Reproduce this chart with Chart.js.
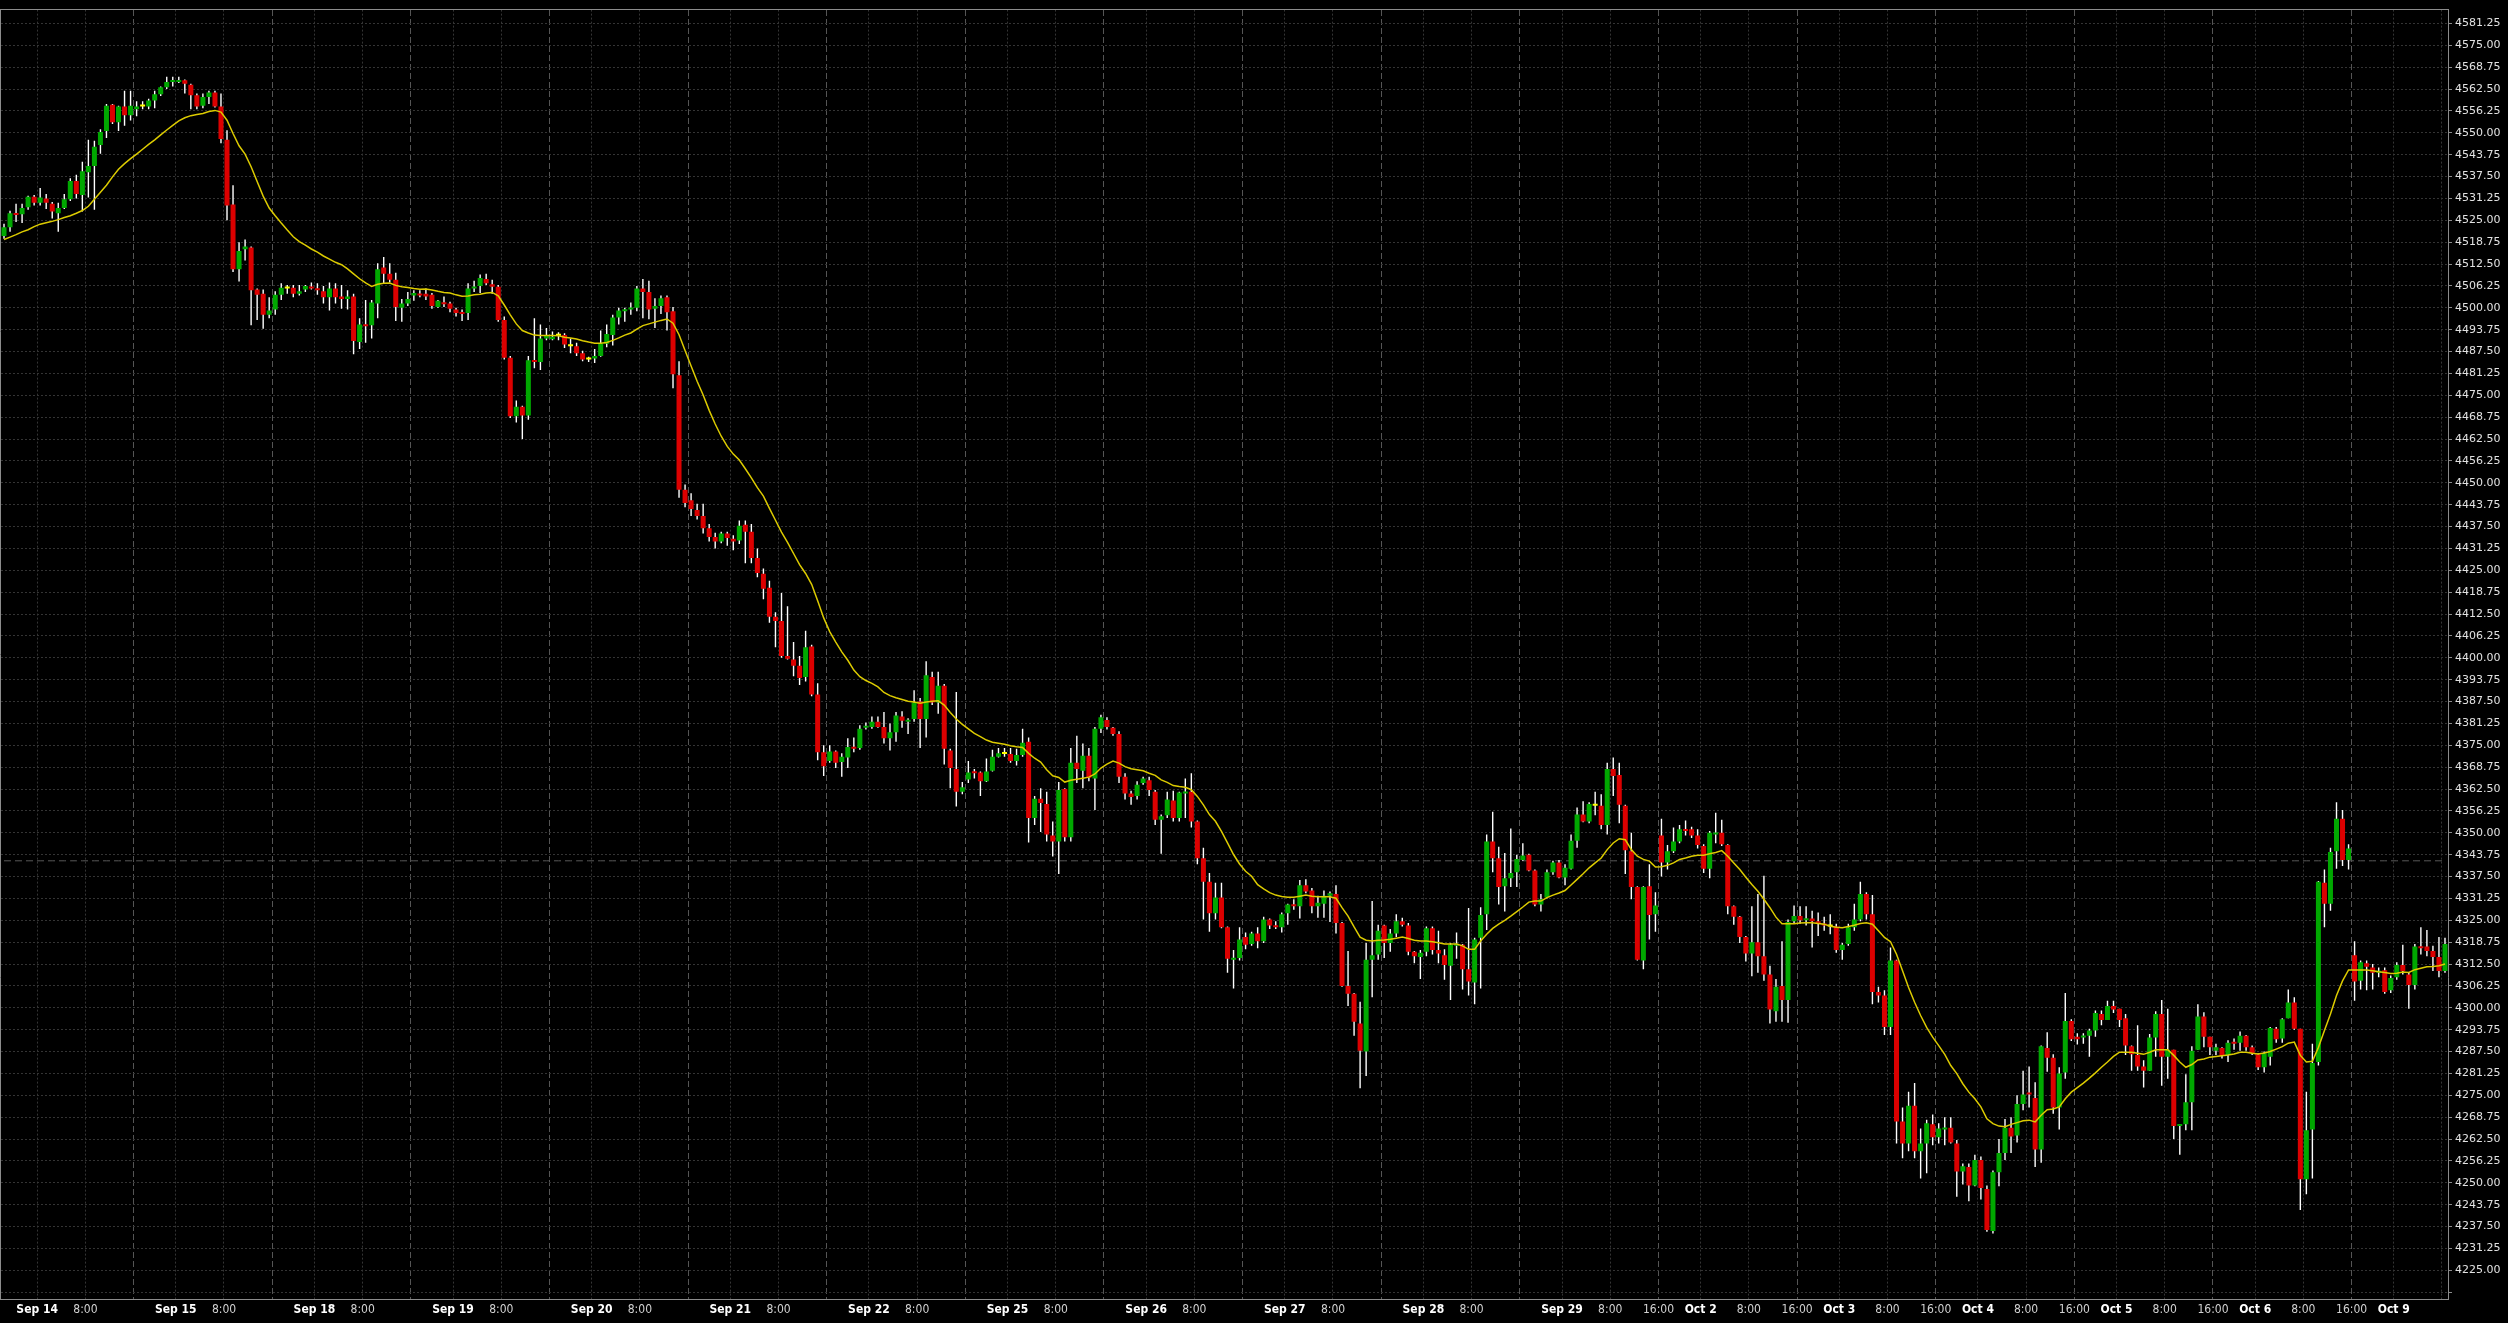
<!DOCTYPE html>
<html>
<head>
<meta charset="utf-8">
<title>Hourly candles</title>
<script src="https://cdn.jsdelivr.net/npm/chart.js@4.4.0/dist/chart.umd.min.js"></script>
<style>
  html, body { margin: 0; padding: 0; background: #000; }
  #wrap { width: 2508px; height: 1323px; position: relative; }
</style>
</head>
<body>
<div id="wrap"><canvas id="chart"></canvas></div>
<script>
// session dates shown on the time axis, each session has 23 hourly bars
const days = ['Sep 14', 'Sep 15', 'Sep 18', 'Sep 19', 'Sep 20', 'Sep 21', 'Sep 22', 'Sep 25', 'Sep 26',
  'Sep 27', 'Sep 28', 'Sep 29', 'Oct 2', 'Oct 3', 'Oct 4', 'Oct 5', 'Oct 6', 'Oct 9'];
const leadBars = 6;       // bars before the first date label
const sessionBars = 23;
const first16Label = 11;  // "16:00" labels only shown from Sep 29 on

const open = [
  4520.5, 4523, 4527, 4526.75, 4528.75, 4531.75, 4530, 4531.25, 4529.75, 4527,
  4528.5, 4531, 4536.25, 4532.25, 4538.75, 4540.5, 4546.5, 4550.5, 4558, 4553,
  4557.5, 4555, 4556.75, 4557.5, 4557.5, 4559.25, 4561, 4563, 4564.5, 4564.5,
  4565, 4563.75, 4560.75, 4557.75, 4560.25, 4561.5, 4557.5, 4548, 4529.5, 4511,
  4516.75, 4517.25, 4505.25, 4504, 4498, 4499.5, 4503.75, 4505.5, 4505.75, 4504,
  4505.25, 4506, 4505.5, 4504.75, 4503, 4505.5, 4503.25, 4502.5, 4503.25, 4490.25,
  4495.25, 4495, 4501.25, 4511.5, 4509.75, 4508, 4500, 4501.25, 4503.5, 4504,
  4504, 4503.75, 4500.25, 4501.5, 4501.25, 4499.5, 4498.75, 4498.5, 4505.5, 4506.25,
  4508.25, 4506.75, 4506, 4496.5, 4485.75, 4469, 4471.75, 4469.25, 4485, 4484.5,
  4491.25, 4491, 4492, 4492.25, 4489, 4489, 4487, 4485.25, 4485.5, 4486.25,
  4489.75, 4492.25, 4497.25, 4499, 4499.5, 4500, 4505.5, 4504.5, 4499.75, 4500.5,
  4503, 4499, 4480.75, 4448, 4445, 4442.25, 4440.5, 4437, 4434.5, 4433.25,
  4435.5, 4434, 4433.5, 4438, 4436, 4428.5, 4424, 4420, 4411.75, 4410.5,
  4400.5, 4399.5, 4397.75, 4394.5, 4403.25, 4389.5, 4373, 4370.5, 4373.25, 4370.25,
  4371.5, 4374.5, 4374.25, 4380, 4380.25, 4381.75, 4380.25, 4377, 4378.75, 4383.25,
  4381.75, 4382.5, 4387.5, 4382.5, 4394.5, 4387.25, 4392, 4373.5, 4368.25, 4361.75,
  4365.25, 4367.5, 4367.25, 4364.75, 4367.75, 4371.75, 4372.5, 4372.5, 4370.5, 4372.25,
  4376, 4354.25, 4359.75, 4358.25, 4349.25, 4347.5, 4362.5, 4348.75, 4370, 4367.75,
  4372, 4365.5, 4379.75, 4382.25, 4380, 4378.25, 4366, 4361.25, 4360.5, 4364.25,
  4365, 4361.75, 4353.75, 4355, 4359.25, 4354.25, 4361.25, 4361.75, 4353.25, 4342.75,
  4336, 4327, 4331.5, 4323, 4313.75, 4314.25, 4320.25, 4318.25, 4321.25, 4319,
  4325.25, 4323.5, 4323, 4327, 4329.5, 4329, 4335, 4333.5, 4329, 4329.75,
  4332, 4332.5, 4324.25, 4306.25, 4304, 4295.5, 4287.5, 4313.75, 4315.25, 4323.5,
  4318.5, 4321.25, 4324.75, 4323.5, 4316, 4314.5, 4316, 4322.75, 4316.5, 4315,
  4312, 4317.75, 4318, 4311, 4307.25, 4320, 4326.75, 4347.5, 4342.75, 4334.75,
  4337, 4338.75, 4342.25, 4343.75, 4339.25, 4329.5, 4331.5, 4338.75, 4341.5, 4337.25,
  4339.75, 4347.75, 4355.25, 4353.25, 4357.75, 4357.75, 4352.25, 4368.25, 4366.5, 4357.75,
  4344.75, 4334.5, 4313.5, 4334.75, 4326.75, 4349.25, 4341.5, 4344.75, 4347.5, 4351,
  4351, 4349.25, 4346.25, 4339.75, 4349.5, 4350, 4346.5, 4329, 4326, 4320.25,
  4315.5, 4318.75, 4314.75, 4309.5, 4299, 4306.25, 4302.25, 4324.75, 4326.25, 4325,
  4325.5, 4324.75, 4324, 4323.25, 4323.25, 4316.5, 4318.25, 4323, 4325.25, 4332.5,
  4326.75, 4304.5, 4303.5, 4294.5, 4313.5, 4267.5, 4261.25, 4272, 4259, 4261.25,
  4266.75, 4263, 4265.25, 4265.75, 4261.25, 4253.25, 4254.5, 4249.25, 4256.5, 4248.25,
  4236.25, 4253, 4258.5, 4265.75, 4263.5, 4272.5, 4275.75, 4274.25, 4259.5, 4288.5,
  4285.75, 4271.5, 4281.5, 4296.25, 4291.75, 4291.5, 4292, 4293.5, 4298.25, 4296.5,
  4300.5, 4299.75, 4297, 4289, 4286.5, 4283.25, 4282, 4291.5, 4298.25, 4286,
  4288, 4266.25, 4266.75, 4273, 4288, 4297.5, 4291.75, 4287.75, 4288.5, 4286.5,
  4290.25, 4290, 4292, 4288.75, 4286.75, 4283, 4286, 4294, 4291.25, 4297,
  4301.5, 4294, 4251, 4265.25, 4284.5, 4335.75, 4329.75, 4344.75, 4354, 4342.25,
  4315, 4307.75, 4312.75, 4311.5, 4310, 4310.75, 4305, 4308.75, 4312.25, 4309.5,
  4306.5, 4317.5, 4317.5, 4316.25, 4314.5, 4310.5
];

const high = [
  4524, 4527.75, 4529.75, 4529.75, 4532, 4532.25, 4534.25, 4532.5, 4530.25, 4530,
  4532.5, 4537, 4538, 4541.75, 4548, 4547.75, 4551, 4558.25, 4558.25, 4557.75,
  4562, 4562, 4559, 4559, 4559.75, 4562, 4563.25, 4566, 4566, 4566,
  4565.25, 4564, 4561.25, 4561.25, 4562, 4562, 4561.25, 4550.75, 4535, 4518.75,
  4519.5, 4517.5, 4505.5, 4505.25, 4503, 4504.75, 4507, 4506.5, 4506.5, 4506.5,
  4506.5, 4507.25, 4507, 4506.25, 4507.25, 4507, 4506.5, 4505, 4504, 4497,
  4502.25, 4502.25, 4512.75, 4514.5, 4512.75, 4510, 4502.5, 4504.5, 4505, 4505,
  4505.5, 4504.25, 4502.25, 4503.25, 4501.75, 4500, 4499.5, 4507, 4507.75, 4509.5,
  4509.75, 4508, 4506.5, 4497.5, 4486.25, 4473.5, 4472, 4486.25, 4497, 4495.25,
  4494.25, 4493.25, 4493, 4492.75, 4491.25, 4490, 4487.75, 4486, 4488.25, 4493.5,
  4495.25, 4498, 4500, 4500, 4501.5, 4506.25, 4508.25, 4507.75, 4502.75, 4503.5,
  4503.5, 4500.25, 4484.75, 4449.5, 4447, 4444, 4444, 4438.25, 4435.75, 4436,
  4436, 4435, 4439.25, 4439.25, 4438.25, 4431.25, 4425.5, 4422, 4413, 4418.5,
  4414.75, 4404.5, 4400.5, 4407.75, 4403.75, 4392.75, 4375, 4375, 4373.5, 4372.75,
  4377, 4377.25, 4380.75, 4381.5, 4383.25, 4383.25, 4384.5, 4381.25, 4384.5, 4384.75,
  4382.75, 4390.75, 4388.5, 4399, 4396, 4396, 4392.5, 4374, 4390.25, 4364.5,
  4370.5, 4368.25, 4367.5, 4371.25, 4373.75, 4374.25, 4374.25, 4374.25, 4374, 4379.75,
  4377.25, 4360.5, 4362.75, 4361.75, 4353.25, 4364.5, 4362.75, 4374.25, 4377.75, 4375.5,
  4374.25, 4380.25, 4383.75, 4383, 4380.25, 4379, 4367, 4362, 4364.75, 4366,
  4366, 4362.25, 4355.25, 4361.75, 4362, 4361.75, 4365.5, 4367, 4353.5, 4345.75,
  4338.5, 4335.75, 4335.75, 4323.25, 4316.5, 4323, 4321.5, 4321.75, 4323, 4326,
  4325.5, 4324.75, 4327.25, 4329.75, 4331, 4336.5, 4336.75, 4334.25, 4332, 4333.5,
  4333.25, 4335, 4324.5, 4316.25, 4304.25, 4301.75, 4318.5, 4330.5, 4323.75, 4323.75,
  4322.5, 4326.75, 4325.75, 4324.25, 4316.25, 4316.5, 4323.25, 4323.25, 4322, 4316.75,
  4318.5, 4321.5, 4318.25, 4328.5, 4320, 4328.75, 4349.5, 4356, 4346, 4344.25,
  4351.25, 4343.75, 4347, 4344, 4339.5, 4332.5, 4339.5, 4342, 4342.25, 4341,
  4349.5, 4357.25, 4359, 4358.75, 4361.75, 4361, 4370, 4371.5, 4370, 4358,
  4350, 4334.75, 4334.75, 4341, 4333, 4354, 4346.5, 4351.5, 4352.25, 4353.5,
  4351.75, 4351, 4346.75, 4350.5, 4355.75, 4353.75, 4346.75, 4329.25, 4326.25, 4320.5,
  4329, 4332.5, 4337.75, 4312, 4308.25, 4319, 4325.25, 4329.25, 4329, 4329,
  4327.75, 4327.25, 4326, 4326.75, 4324, 4318.5, 4324, 4329.75, 4336, 4333,
  4332.25, 4306, 4305, 4317.25, 4313.75, 4271.5, 4276, 4278.5, 4265.5, 4268,
  4269.5, 4267, 4268.75, 4268.75, 4262.25, 4255.5, 4255.5, 4258, 4257.5, 4249.25,
  4253.5, 4262.5, 4268.25, 4268.75, 4275, 4282, 4283.25, 4278.75, 4289.25, 4293,
  4286.75, 4283, 4304.25, 4296.75, 4292.75, 4292.75, 4294, 4299.25, 4299.25, 4302,
  4302, 4299.75, 4298.25, 4289.25, 4295, 4285, 4292.5, 4299, 4302.25, 4299.75,
  4288, 4266.75, 4281, 4289, 4301, 4298.75, 4291.75, 4289.75, 4288.75, 4290.75,
  4291.25, 4293.25, 4292.25, 4289.25, 4287, 4287.5, 4294.5, 4294.5, 4297, 4305.25,
  4303, 4294, 4276, 4289.75, 4336.25, 4339.5, 4345.75, 4358.75, 4356.5, 4346.75,
  4319, 4313.5, 4313.5, 4312.5, 4311.5, 4311.5, 4309.25, 4313, 4318, 4310,
  4318.25, 4323, 4322.25, 4317.75, 4320.25, 4320
];

const low = [
  4519.75, 4521.75, 4524.5, 4524.25, 4528, 4529.25, 4529.25, 4528.25, 4525.5, 4521.75,
  4528.25, 4530.5, 4531.25, 4527.5, 4531.5, 4528, 4544, 4548.5, 4552.5, 4550.5,
  4552, 4553.5, 4554.75, 4556.75, 4556.75, 4557, 4560.5, 4562.5, 4563.25, 4564.25,
  4561.25, 4556.75, 4556.75, 4557, 4558.25, 4557.25, 4547, 4525, 4510.25, 4507.5,
  4513.5, 4495, 4496.5, 4494, 4497, 4498, 4502.25, 4504, 4503, 4503.5,
  4504.5, 4505.25, 4503.75, 4501.25, 4499.25, 4501.25, 4499.75, 4499.5, 4486.75, 4488.25,
  4490, 4491.25, 4497, 4507, 4507.25, 4496.25, 4496, 4500.5, 4502, 4503,
  4502.25, 4499.75, 4500, 4500.25, 4498.75, 4497.5, 4496.25, 4496.5, 4504.5, 4504.25,
  4506.5, 4504, 4496, 4485.25, 4468.5, 4467.25, 4462.5, 4468, 4482.75, 4482.25,
  4490.75, 4490.75, 4490.75, 4488.5, 4487, 4486.25, 4484.75, 4484.5, 4484.25, 4486,
  4488.75, 4489.25, 4495.25, 4496, 4498, 4499, 4497, 4496.75, 4494.25, 4498.25,
  4493.5, 4477, 4445.75, 4443, 4440.5, 4439.5, 4435.5, 4433.25, 4431.25, 4432.75,
  4432, 4430.75, 4432.5, 4427, 4427, 4423, 4416.75, 4410, 4403, 4400,
  4399.5, 4394.75, 4392.25, 4393.25, 4389, 4370.75, 4366.25, 4370, 4368.5, 4366,
  4368.5, 4373, 4373.75, 4379.5, 4379.75, 4380, 4375.5, 4373.5, 4376, 4380,
  4378.25, 4381.75, 4374.25, 4377.25, 4386.5, 4384, 4369.5, 4362.75, 4357.5, 4361,
  4364.25, 4365.5, 4360.5, 4364.5, 4367.5, 4371.5, 4371.75, 4370, 4369.25, 4371.75,
  4347.25, 4352.25, 4350.25, 4347.5, 4343.25, 4338.25, 4347.5, 4347.5, 4364.25, 4362.75,
  4364.75, 4356.5, 4378.5, 4379.5, 4377.75, 4364.25, 4359.5, 4358, 4359.5, 4363.75,
  4360.5, 4352.25, 4344, 4354.25, 4353.25, 4353.25, 4354.25, 4351.5, 4341, 4325.25,
  4321.75, 4325.25, 4322.75, 4310, 4305.5, 4313.5, 4316.75, 4317.75, 4317, 4318.5,
  4322.5, 4322.5, 4321.5, 4323.75, 4328, 4325.5, 4332.75, 4327, 4325.75, 4325.75,
  4324.5, 4321.25, 4306, 4300.5, 4292, 4277, 4280.5, 4303, 4313.75, 4314.25,
  4316, 4320.25, 4323.25, 4315, 4312.75, 4308.25, 4314.75, 4315.25, 4312.75, 4308,
  4302.25, 4314, 4305.25, 4303.5, 4301, 4305.5, 4322.25, 4338.75, 4329.5, 4327.5,
  4334.5, 4334.5, 4342, 4339, 4329, 4327.5, 4331.25, 4338, 4337, 4335,
  4339.5, 4345.75, 4353, 4352.75, 4355, 4351, 4349.5, 4360.5, 4352.75, 4338.25,
  4331, 4313.5, 4311, 4319.5, 4321.75, 4337.5, 4339.5, 4344.25, 4347, 4349.25,
  4348.5, 4345.5, 4338.5, 4337, 4347, 4346.25, 4326.75, 4323.75, 4318.5, 4313.25,
  4309, 4310, 4307.75, 4295.5, 4296, 4296, 4295.75, 4324.25, 4324, 4323.5,
  4317.25, 4320.5, 4322, 4321, 4315.75, 4313.75, 4317.75, 4322, 4324.75, 4325.25,
  4301, 4301.5, 4292.25, 4292.25, 4261.25, 4257, 4259, 4257, 4251.25, 4252.75,
  4260.75, 4261.25, 4260.75, 4261.25, 4246, 4249.5, 4244.75, 4249, 4245.25, 4236,
  4235.5, 4249, 4256.5, 4258.5, 4261.5, 4270.75, 4271.5, 4254.5, 4255.75, 4281.75,
  4269.75, 4265.25, 4279.75, 4290.5, 4289.5, 4289.75, 4286, 4291.75, 4295, 4296.5,
  4298.5, 4294.5, 4286.5, 4282, 4282, 4277.25, 4282, 4286, 4277.75, 4279.75,
  4262.5, 4258, 4265, 4265, 4288, 4288.75, 4286.5, 4286.5, 4285.5, 4284.5,
  4288, 4287.75, 4287.75, 4286.5, 4282.25, 4281.5, 4283.5, 4290, 4290, 4297,
  4293.75, 4242.25, 4246.75, 4251.25, 4283.5, 4323, 4327.75, 4339.75, 4340.5, 4339.5,
  4302, 4305.25, 4305, 4305.25, 4308.75, 4304, 4304.25, 4308, 4309.5, 4299.75,
  4305.25, 4315.25, 4314.75, 4310.5, 4308.75, 4310
];

const close = [
  4523, 4527, 4526.5, 4528.5, 4531.75, 4530, 4531.5, 4530, 4527.5, 4528.5,
  4531, 4536.25, 4532.5, 4539, 4540.5, 4546, 4550.25, 4557.75, 4553, 4557.5,
  4555, 4557.75, 4557.5, 4557.5, 4559.25, 4561, 4563, 4564.5, 4565, 4565,
  4564, 4560.75, 4557.5, 4560.25, 4561.5, 4557.5, 4548.25, 4529.25, 4511, 4516.25,
  4517.5, 4505, 4503.75, 4498, 4499.25, 4503.75, 4505.75, 4505.5, 4504, 4504.75,
  4506.25, 4505.5, 4505, 4503, 4505.5, 4503, 4502.5, 4503.25, 4490.5, 4495.25,
  4494.75, 4501.5, 4511, 4509.75, 4508, 4500.25, 4501.25, 4502.5, 4504.25, 4503.5,
  4503.25, 4500.5, 4502, 4501, 4499.75, 4498.5, 4498.25, 4505.5, 4506, 4508.5,
  4507, 4506, 4496.5, 4485.75, 4469, 4471.75, 4469.25, 4485, 4484.5, 4491.25,
  4492, 4491.75, 4492, 4489.5, 4489, 4487, 4485.25, 4485.25, 4486.25, 4489.75,
  4492.5, 4497.25, 4499.25, 4499.5, 4500, 4505.5, 4504.5, 4499.5, 4500.5, 4502.75,
  4498.75, 4481, 4448, 4444.25, 4442.5, 4440.5, 4437, 4434.5, 4433.25, 4435.5,
  4434.25, 4433.25, 4437.75, 4436, 4428.5, 4424.25, 4419.75, 4411.75, 4410.5, 4400.5,
  4399.75, 4397.75, 4394.25, 4403, 4389.5, 4373, 4369, 4373.25, 4370, 4371.75,
  4374.5, 4374, 4379.75, 4380.5, 4381.75, 4380.25, 4377, 4378.75, 4383.5, 4382,
  4382.25, 4387.25, 4382.5, 4395, 4387.25, 4392, 4374, 4368.5, 4361.75, 4363,
  4367.25, 4367, 4364.75, 4367.5, 4371.75, 4372.75, 4372.5, 4370.5, 4372.25, 4375.75,
  4354.25, 4359.75, 4358.5, 4349.5, 4347.5, 4362.25, 4348.75, 4370, 4368.25, 4372,
  4365.75, 4379.75, 4383, 4380.25, 4378.25, 4366, 4361.25, 4360.25, 4363.75, 4365.5,
  4362.25, 4353.75, 4354.75, 4359.5, 4354.25, 4361.5, 4361.75, 4353.25, 4342.75, 4336,
  4327, 4331.5, 4323, 4314, 4314.25, 4319.5, 4318, 4321.25, 4319, 4325.25,
  4323.5, 4323, 4326.75, 4329.5, 4329, 4335, 4333.25, 4329, 4330, 4332,
  4332.75, 4324.25, 4306.25, 4304, 4296, 4287.75, 4313.75, 4315, 4322, 4318.5,
  4321.25, 4324.75, 4323.75, 4316, 4314.75, 4315.75, 4322.75, 4316.5, 4315.5, 4312.25,
  4318, 4318.25, 4311, 4307.5, 4319.5, 4326.5, 4347.5, 4342.75, 4334.5, 4337,
  4338.5, 4342.5, 4343.5, 4339.25, 4329.5, 4331, 4338.75, 4341.5, 4337.25, 4340,
  4347.75, 4355.25, 4353.25, 4358.25, 4357.75, 4352.25, 4368.25, 4366.25, 4358, 4345,
  4334.5, 4313.75, 4334.5, 4326.5, 4329.25, 4341.5, 4344.75, 4347.5, 4351, 4350.5,
  4349.25, 4346.5, 4339.75, 4350, 4350, 4346.75, 4329, 4326, 4320.25, 4315.5,
  4318.75, 4314.75, 4309.5, 4299.5, 4306, 4302.25, 4324.5, 4326.25, 4325, 4325.5,
  4324.75, 4324, 4323.5, 4323.25, 4316.5, 4318, 4323, 4325.25, 4332.5, 4326.75,
  4304.5, 4303.5, 4294.5, 4313.5, 4267.5, 4261.25, 4272, 4259, 4261.25, 4267,
  4263, 4265.5, 4265.75, 4261.5, 4253.25, 4254.75, 4249.25, 4256.5, 4248.5, 4236.5,
  4253, 4258.5, 4265.75, 4263.25, 4272.5, 4275.25, 4275.25, 4259.5, 4289, 4285.75,
  4271.5, 4281.25, 4296.25, 4291, 4291, 4292, 4293.5, 4298.5, 4296.5, 4300.5,
  4299.5, 4296.5, 4289.25, 4286.75, 4283.25, 4282, 4291.5, 4298.25, 4286, 4288,
  4266.25, 4266.75, 4273, 4287.75, 4297.5, 4291.75, 4288.75, 4288.75, 4286.25, 4290,
  4289.75, 4292, 4288.75, 4287, 4283, 4287, 4294.25, 4291, 4296.75, 4301.5,
  4294, 4251, 4265, 4284.25, 4336, 4329.75, 4344.5, 4354, 4342.25, 4345.5,
  4307.5, 4313, 4311.75, 4310, 4310.5, 4304.5, 4308.5, 4312.25, 4310.5, 4306.5,
  4317.5, 4317, 4316.25, 4314.5, 4310.5, 4318.25
];

// yellow moving average
const movingAvg = [
  4519.5, 4520.2, 4520.9, 4521.7, 4522.3, 4523.2, 4523.9, 4524.3, 4524.7, 4525.2,
  4525.8, 4526.3, 4527.0, 4527.8, 4529.0, 4531.0, 4533.0, 4535.0, 4537.4, 4539.6,
  4541.2, 4542.6, 4543.9, 4545.3, 4546.7, 4548.0, 4549.4, 4550.8, 4552.1, 4553.4,
  4554.3, 4554.9, 4555.2, 4555.5, 4556.1, 4556.4, 4555.9, 4553.6, 4549.8, 4546.3,
  4543.9, 4540.3, 4536.1, 4531.9, 4528.5, 4526.3, 4524.2, 4522.2, 4520.3, 4518.9,
  4517.9, 4516.8, 4515.9, 4514.8, 4513.9, 4513.0, 4512.3, 4511.1, 4509.7, 4508.3,
  4507.1, 4506.1, 4506.7, 4507.0, 4507.1, 4506.4, 4506.0, 4505.8, 4505.5, 4505.3,
  4505.4, 4505.1, 4504.7, 4504.4, 4504.2, 4503.7, 4503.3, 4503.4, 4503.7, 4503.9,
  4504.2, 4504.4, 4503.4, 4500.8, 4498.0, 4495.4, 4493.5, 4492.8, 4492.2, 4492.1,
  4492.1, 4492.1, 4492.0, 4491.6, 4491.4, 4491.1, 4490.6, 4490.2, 4489.9, 4489.9,
  4490.1, 4490.7, 4491.4, 4492.2, 4492.8, 4493.9, 4494.9, 4495.4, 4495.9, 4496.4,
  4496.8, 4495.6, 4492.3, 4487.8, 4483.4, 4479.0, 4475.1, 4470.7, 4466.8, 4463.3,
  4460.4, 4458.2, 4456.5, 4454.0, 4451.4, 4448.6, 4446.2, 4442.7, 4439.3, 4435.9,
  4433.0, 4429.8, 4426.6, 4424.1, 4421.0, 4416.3, 4411.4, 4407.5, 4404.5, 4401.7,
  4399.3, 4396.5, 4394.6, 4393.5, 4392.7, 4391.7, 4390.1, 4389.2, 4388.6, 4388.1,
  4387.6, 4387.4, 4387.0, 4387.4, 4387.6, 4387.7, 4386.5, 4384.4, 4382.5, 4381.0,
  4379.7, 4378.4, 4377.5, 4376.5, 4375.9, 4375.6, 4375.3, 4374.9, 4374.6, 4374.4,
  4372.7, 4371.3, 4370.2, 4368.0, 4366.3, 4365.8, 4364.5, 4365.0, 4365.3, 4365.6,
  4365.9, 4366.8, 4368.5, 4369.6, 4370.5, 4369.9, 4368.9, 4368.3, 4368.0, 4367.7,
  4367.0, 4366.4, 4365.1, 4364.4, 4363.5, 4363.2, 4363.0, 4362.3, 4360.4, 4358.0,
  4355.2, 4353.3, 4350.4, 4347.1, 4343.8, 4341.1, 4339.0, 4337.6, 4335.2, 4334.0,
  4332.9, 4332.2, 4331.8, 4331.6, 4331.6, 4331.9, 4332.2, 4331.9, 4331.7, 4331.7,
  4331.7, 4331.3, 4328.6, 4326.2, 4323.1, 4320.2, 4319.3, 4319.1, 4319.3, 4319.4,
  4319.6, 4319.9, 4320.2, 4319.8, 4319.3, 4319.1, 4319.1, 4318.9, 4318.6, 4318.2,
  4318.2, 4318.2, 4317.7, 4316.7, 4316.7, 4319.1, 4321.0, 4322.7, 4323.9, 4325.0,
  4326.2, 4327.5, 4328.8, 4330.2, 4330.5, 4330.5, 4331.5, 4332.2, 4332.8, 4333.5,
  4335.1, 4336.7, 4338.3, 4340.0, 4341.4, 4342.8, 4345.2, 4347.1, 4348.3, 4348.0,
  4345.2, 4343.3, 4342.4, 4341.9, 4340.2, 4340.3, 4340.7, 4341.4, 4342.4, 4342.8,
  4343.3, 4343.6, 4343.6, 4344.0, 4344.4, 4344.9, 4343.3, 4341.4, 4339.5, 4337.3,
  4335.2, 4333.3, 4331.0, 4328.6, 4325.9, 4324.0, 4324.0, 4324.0, 4324.2, 4324.3,
  4324.3, 4324.1, 4323.9, 4323.3, 4323.0, 4322.9, 4323.2, 4323.6, 4324.1, 4324.3,
  4323.9, 4322.0, 4320.1, 4318.9, 4315.3, 4310.6, 4305.8, 4301.6, 4297.8, 4294.4,
  4291.6, 4289.2, 4286.7, 4283.5, 4281.2, 4278.3, 4275.9, 4274.0, 4271.7, 4268.3,
  4266.9, 4266.2, 4266.0, 4266.7, 4267.2, 4267.7, 4267.9, 4267.4, 4269.3, 4270.9,
  4271.1, 4271.7, 4274.0, 4275.9, 4277.2, 4278.5, 4279.9, 4281.4, 4283.0, 4284.5,
  4286.1, 4287.3, 4287.3, 4287.3, 4287.0, 4286.7, 4287.3, 4288.0, 4288.0, 4288.0,
  4286.4, 4284.5, 4283.0, 4283.8, 4285.1, 4285.4, 4285.9, 4286.1, 4286.3, 4286.5,
  4286.8, 4287.3, 4287.3, 4287.0, 4286.8, 4287.1, 4287.5, 4288.2, 4288.9, 4289.9,
  4290.2, 4286.4, 4284.5, 4284.7, 4288.7, 4293.5, 4298.2, 4303.5, 4307.7, 4310.8,
  4310.8, 4310.8, 4310.8, 4310.6, 4310.3, 4310.1, 4309.8, 4309.9, 4310.2, 4310.1,
  4310.9, 4311.3, 4311.7, 4311.8, 4312.0, 4312.5
];

const refLevel = 4342;   // long dashed horizontal level
const yMin = 4216.8;
const yMax = 4585.2;
const yStep = 6.25;

const UP = '#00a800';
const DOWN = '#dc0000';
const DOJI = '#ffff00';
const WICK = '#ffffff';
const MA_COLOR = '#dccb00';
const GRID = '#343434';
const DAY_LINE = '#555555';
const FRAME = '#8c8c8c';
const COND = '"DejaVu Sans Condensed", "DejaVu Sans", sans-serif';

function hourOf(k) {
  if (typeof k !== 'number') return -1;
  const t = k - leadBars;
  return t < 0 ? -1 : t % sessionBars;
}

function dayOf(k) {
  return Math.floor((k - leadBars) / sessionBars);
}

const labels = close.map((c, k) => {
  const h = hourOf(k);
  const d = dayOf(k);
  if (h === 0) return days[d];
  if (h === 8 && k < close.length - 1) return '8:00';
  if (h === 16 && d >= first16Label) return '16:00';
  return '';
});

const bodyColors = close.map((c, i) => c > open[i] ? UP : (c < open[i] ? DOWN : DOJI));

const ctx = document.getElementById('chart');

new Chart(ctx, {
  type: 'bar',
  data: {
    labels,
    datasets: [
      {
        type: 'line',
        label: 'MA',
        data: movingAvg,
        borderColor: MA_COLOR,
        borderWidth: 1.5,
        pointRadius: 0,
        tension: 0
      },
      {
        label: 'body',
        data: open.map((o, i) => [o, close[i]]),
        backgroundColor: bodyColors,
        barThickness: 5,
        grouped: false,
        minBarLength: 2,
        borderWidth: 0,
        inflateAmount: 0
      },
      {
        label: 'wick',
        data: low.map((l, i) => [l, high[i]]),
        backgroundColor: WICK,
        barThickness: 1.4,
        grouped: false,
        borderWidth: 0,
        inflateAmount: 0
      },
      {
        type: 'line',
        label: 'level',
        data: close.map(() => refLevel),
        borderColor: '#585858',
        borderWidth: 1,
        borderDash: [7, 4],
        pointRadius: 0
      }
    ]
  },
  options: {
    responsive: true,
    maintainAspectRatio: false,
    animation: false,
    events: [],
    layout: { padding: { top: 6, left: 0, right: 0, bottom: 0 } },
    plugins: {
      legend: { display: false },
      tooltip: { enabled: false }
    },
    scales: {
      x: {
        type: 'category',
        position: 'bottom',
        offset: true,
        grid: {
          offset: true,
          drawTicks: false,
          color: GRID,
          lineWidth: (c) => {
            const h = hourOf(c.index);
            return (h === 0 || h === 8) ? 1 : 0;
          }
        },
        border: { display: true, color: FRAME, dash: [2, 2] },
        ticks: {
          autoSkip: false,
          maxRotation: 0,
          minRotation: 0,
          padding: 4,
          labelOffset: -3,
          color: (c) => hourOf(c.index) === 0 ? '#ffffff' : '#d2d2d2',
          font: (c) => hourOf(c.index) === 0
            ? { family: COND, size: 12, weight: 'bold' }
            : { family: COND, size: 12 }
        },
        afterFit: (s) => { s.height = 24; }
      },
      // only carries the long dashed session lines (16:00) and the top frame
      x2: {
        type: 'category',
        position: 'top',
        offset: true,
        grid: {
          offset: true,
          drawTicks: false,
          color: DAY_LINE,
          lineWidth: (c) => hourOf(c.index) === 16 ? 1 : 0
        },
        border: { display: true, color: FRAME, dash: [6, 3] },
        ticks: { display: false }
      },
      y: {
        type: 'linear',
        position: 'right',
        min: yMin,
        max: yMax,
        grid: {
          color: GRID,
          drawTicks: true,
          tickLength: 4,
          tickColor: FRAME
        },
        border: { display: true, color: FRAME, dash: [2, 2] },
        ticks: {
          stepSize: yStep,
          includeBounds: false,
          padding: 3,
          color: '#e2e2e2',
          font: { family: '"DejaVu Sans", sans-serif', size: 11 },
          callback: (v) => v < yMin + 5 ? '' : Number(v).toFixed(2)
        },
        afterBuildTicks: (s) => {
          s.ticks = s.ticks.filter(t => t.value >= yMin && t.value <= yMax &&
            Math.abs(t.value / yStep - Math.round(t.value / yStep)) < 1e-6);
        },
        afterFit: (s) => { s.width = 60; }
      },
      // left frame line
      yl: {
        type: 'linear',
        position: 'left',
        display: true,
        grid: { display: false, drawTicks: false },
        border: { display: true, color: FRAME },
        ticks: { display: false }
      }
    }
  }
});
</script>
</body>
</html>
